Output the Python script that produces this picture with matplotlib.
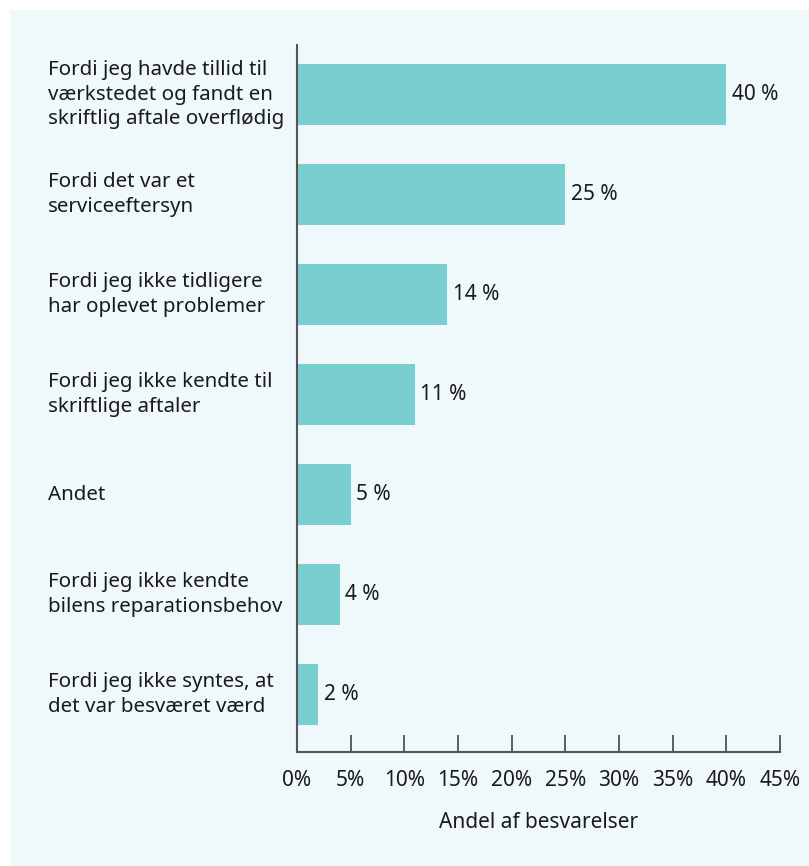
import matplotlib.pyplot as plt
from matplotlib.patches import Rectangle
from matplotlib.transforms import blended_transform_factory

# reasons for not getting a written agreement, share of responses
reasons = [
    "Fordi jeg havde tillid til\nværkstedet og fandt en\nskriftlig aftale overflødig",
    "Fordi det var et\nserviceeftersyn",
    "Fordi jeg ikke tidligere\nhar oplevet problemer",
    "Fordi jeg ikke kendte til\nskriftlige aftaler",
    "Andet",
    "Fordi jeg ikke kendte\nbilens reparationsbehov",
    "Fordi jeg ikke syntes, at\ndet var besværet værd",
]
shares = [40, 25, 14, 11, 5, 4, 2]
xticks = [0, 5, 10, 15, 20, 25, 30, 35, 40, 45]
xlabel = "Andel af besvarelser"

bg = "#eff8fa"
bar_col = "#79cfd0"
txt = "#1a1a1a"
plt.rcParams["font.family"] = ["Noto Sans", "DejaVu Sans"]

fig = plt.figure(figsize=(8.09, 8.66), dpi=100)
fig.patch.set_facecolor("white")
fig.patches.append(Rectangle((10 / 809, 0), 1, 856 / 866, transform=fig.transFigure,
                             facecolor=bg, edgecolor="none", zorder=-1))

ax = fig.add_axes([297 / 809, 114 / 866, 483 / 809, 707 / 866])
ax.set_facecolor("none")

ypos = list(range(len(shares)))
ax.barh(ypos, shares, height=0.61, color=bar_col, zorder=2)
ax.set_xlim(0, 45)
ax.set_ylim(6.57, -0.495)

for y, v in zip(ypos, shares):
    ax.text(v + 0.5, y, f"{v} %", ha="left", va="center", fontsize=15, color=txt)

lab_tr = blended_transform_factory(fig.transFigure, ax.transData)
for y, lab in zip(ypos, reasons):
    ax.text(48 / 809, y, lab, transform=lab_tr, ha="left", va="center",
            fontsize=14.8, color=txt, linespacing=1.33)

ax.set_yticks([])
ax.set_xticks(xticks)
ax.set_xticklabels([f"{t}%" for t in xticks], fontsize=15, color=txt)
ax.tick_params(axis="x", direction="in", length=12, width=1.2, color="#444444", pad=13)
ax.set_xlabel(xlabel, fontsize=15, color=txt, labelpad=15)

for s in ("top", "right"):
    ax.spines[s].set_visible(False)
for s in ("left", "bottom"):
    ax.spines[s].set_color("#555555")
    ax.spines[s].set_linewidth(1.5)

fig.savefig("out.png", dpi=100, facecolor=fig.get_facecolor())
